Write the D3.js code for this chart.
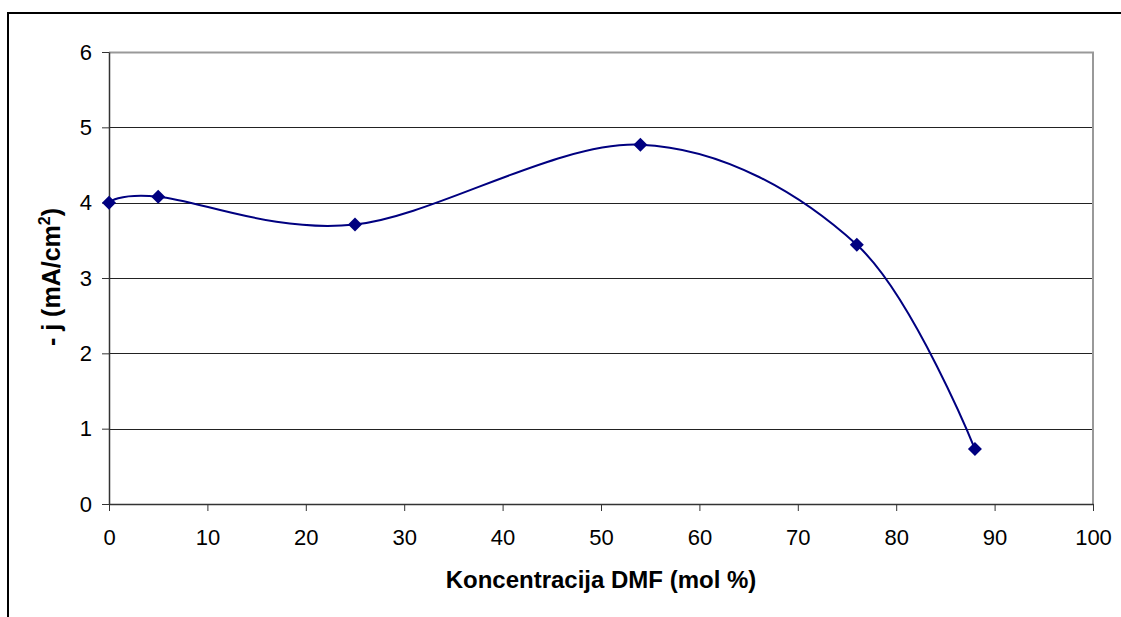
<!DOCTYPE html>
<html>
<head>
<meta charset="utf-8">
<script src="https://cdnjs.cloudflare.com/ajax/libs/d3/7.8.5/d3.min.js"></script>
<style>
  body { margin: 0; background: #fff; }
  svg { display: block; font-family: "Liberation Sans", Arial, sans-serif; }
</style>
</head>
<body>
<svg id="chart"></svg>
<script>
// data
var dmf = [0, 5, 25, 54, 76, 88];
var current = [4.0, 4.08, 3.71, 4.77, 3.44, 0.73];
var xTicks = [0, 10, 20, 30, 40, 50, 60, 70, 80, 90, 100];
var yTicks = [0, 1, 2, 3, 4, 5, 6];

var W = 1121, H = 617;
var margin = {top: 52, right: 28, bottom: 113, left: 109},
    width = W - margin.left - margin.right,
    height = H - margin.top - margin.bottom;

var svgRoot = d3.select("#chart").attr("width", W).attr("height", H);

// outer chart frame (cut off at right / bottom)
svgRoot.append("rect")
    .attr("x", 8).attr("y", 13)
    .attr("width", 1140).attr("height", 700)
    .attr("fill", "none").attr("stroke", "#000").attr("stroke-width", 2);

var svg = svgRoot.append("g")
    .attr("transform", "translate(" + margin.left + "," + margin.top + ")");

var x = d3.scaleLinear().domain([0, 100]).range([0, width]);
var y = d3.scaleLinear().domain([0, 6]).range([height, 0]);

// gridlines
svg.selectAll(".grid")
    .data(yTicks.filter(function(d){ return d > 0 && d < 6; }))
    .enter().append("line")
    .attr("x1", 0).attr("x2", width)
    .attr("y1", function(d){ return Math.round(y(d)) + 0.5; })
    .attr("y2", function(d){ return Math.round(y(d)) + 0.5; })
    .attr("stroke", "#222").attr("stroke-width", 1);

// plot area border (top and right grey)
svg.append("path")
    .attr("d", "M0," + 0.5 + "H" + width + "V" + height)
    .attr("fill", "none").attr("stroke", "#999").attr("stroke-width", 2);

// axes
var xAxis = svg.append("g")
    .attr("transform", "translate(0," + height + ")")
    .call(d3.axisBottom(x).tickValues(xTicks).tickFormat(d3.format("d"))
        .tickSize(7).tickPadding(18).tickSizeOuter(0));
var yAxis = svg.append("g")
    .call(d3.axisLeft(y).tickValues(yTicks).tickFormat(d3.format("d"))
        .tickSize(7).tickPadding(10).tickSizeOuter(0));

[xAxis, yAxis].forEach(function(a) {
    a.select(".domain").attr("stroke", "#333").attr("stroke-width", 1.5);
    a.selectAll(".tick line").attr("stroke", "#333");
    a.selectAll("text").attr("font-size", 22).attr("fill", "#000")
        .attr("font-family", "'Liberation Sans', Arial, sans-serif");
});

// smoothed line
var pts = dmf.map(function(d, i){ return [d, current[i]]; });
var line = d3.line()
    .x(function(d){ return x(d[0]); })
    .y(function(d){ return y(d[1]); })
    .curve(d3.curveCardinal.tension(0));

svg.append("path")
    .datum(pts)
    .attr("d", line)
    .attr("fill", "none")
    .attr("stroke", "#000080")
    .attr("stroke-width", 2);

// diamond markers
svg.selectAll(".pt")
    .data(pts)
    .enter().append("path")
    .attr("class", "pt")
    .attr("transform", function(d){ return "translate(" + x(d[0]) + "," + y(d[1]) + ")"; })
    .attr("d", "M0,-7L7,0L0,7L-7,0Z")
    .attr("fill", "#000080");

// axis titles
svgRoot.append("text")
    .attr("x", 601).attr("y", 588)
    .attr("text-anchor", "middle")
    .attr("font-size", 24).attr("font-weight", "bold")
    .text("Koncentracija DMF (mol %)");

var yt = svgRoot.append("text")
    .attr("transform", "translate(60,277) rotate(-90)")
    .attr("text-anchor", "middle")
    .attr("font-size", 25).attr("font-weight", "bold");
yt.append("tspan").text("- j (mA/cm");
yt.append("tspan").attr("font-size", 16).attr("dy", -10).text("2");
yt.append("tspan").attr("dy", 10).text(")");
</script>
</body>
</html>
